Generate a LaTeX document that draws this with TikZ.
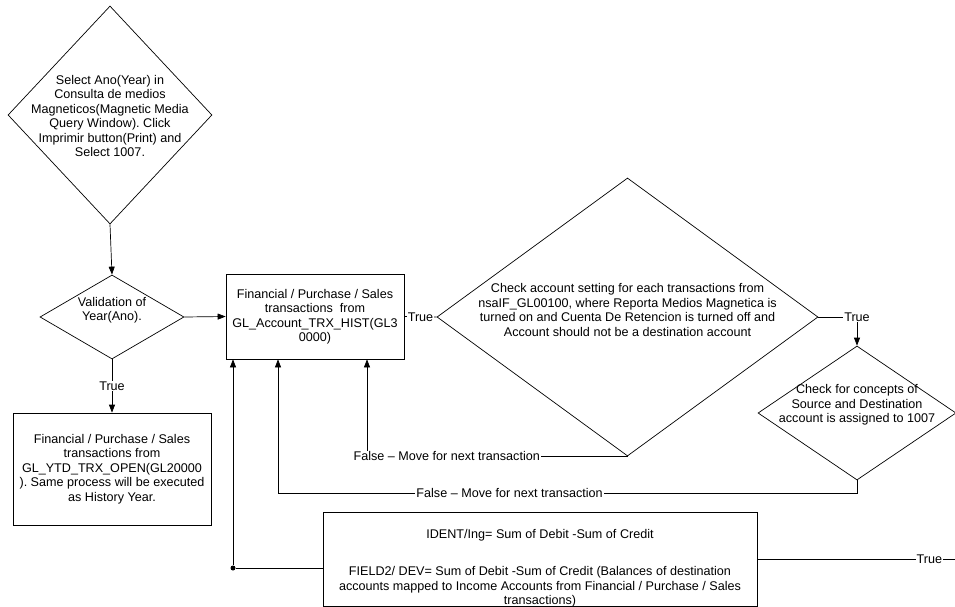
\documentclass[tikz,border=0pt]{standalone}
\usepackage{fontspec}
\setmainfont{Liberation Sans}
\usepackage{tikz}
\usetikzlibrary{positioning,arrows.meta,shapes.geometric}
\frenchspacing
\tikzset{
  dia/.style  = {draw, diamond, inner sep=0pt, line width=0.7pt},
  pbox/.style = {draw, rectangle, inner sep=0pt, line width=0.7pt},
  txt/.style  = {align=center, font=\fontsize{12.6}{14.5}\selectfont, inner sep=0pt},
  flow/.style = {-{Triangle[length=8pt,width=6pt]}, line width=0.7pt},
  link/.style = {line width=0.7pt},
  lbl/.style  = {fill=white, inner sep=1pt, font=\fontsize{12.6}{14}\selectfont},
}

\begin{document}
\begin{tikzpicture}[x=1pt, y=-1pt]
  \useasboundingbox (0,0) rectangle (955,607);
  % decisions and process boxes
  \node[dia, minimum width=204pt, minimum height=218pt] (sel) at (110,115) {};
  \node[txt] (seltxt) at (110,116) {Select Ano(Year) in\\Consulta de medios\\Magneticos(Magnetic Media\\Query Window). Click\\Imprimir button(Print) and\\Select 1007.};
  \node[dia, minimum width=144pt, minimum height=84pt] (val) at (112,317) {};
  \node[txt] (valtxt) at (112,310) {Validation of\\Year(Ano).};
  \node[pbox, txt, minimum width=198pt, minimum height=112pt] (hist) at (112,469) {Financial / Purchase / Sales\\transactions from\\GL\_YTD\_TRX\_OPEN(GL20000\\). Same process will be executed\\as History Year.};
  \node[pbox, txt, minimum width=178pt, minimum height=85pt] (gl) at (315,316.5) {Financial / Purchase / Sales\\transactions\ \ from\\GL\_Account\_TRX\_HIST(GL3\\0000)};
  \node[dia, minimum width=381pt, minimum height=278pt] (chk) at (627.5,317) {};
  \node[txt] (chktxt) at (627.5,310) {Check account setting for each transactions from\\nsaIF\_GL00100, where Reporta Medios Magnetica is\\turned on and Cuenta De Retencion is turned off and\\Account should not be a destination account};
  \node[dia, minimum width=198pt, minimum height=134pt] (con) at (857,413) {};
  \node[txt] (contxt) at (857,405) {Check for concepts of\\Source and Destination\\account is assigned to 1007};
  \node[pbox, minimum width=434pt, minimum height=94pt] (res) at (540,559) {};
  \node[txt] (restxt) at (540,568) {IDENT/Ing= Sum of Debit -Sum of Credit\\[23pt]FIELD2/ DEV= Sum of Debit -Sum of Credit (Balances of destination\\accounts mapped to Income Accounts from Financial / Purchase / Sales\\transactions)};
  \node[circle, fill, inner sep=0pt, minimum size=5pt] (jn) at (233,568) {};
  \coordinate (lp) at (278,493);
  \coordinate (rt) at (955,559);

  % connectors
  \draw[flow] (sel.south) -- (val.north);
  \draw[flow] (val.east) -- (gl.west);
  \draw[flow] (val.south) -- node[lbl] (t1) {True} (hist.north);
  \draw[link] (gl.east) -- node[lbl] (t2) {True} (chk.west);
  \draw[flow] (chk.east) -| node[lbl, pos=0.5] (t3) {True} (con.north);
  \draw[flow] (chk.south) -| node[lbl, pos=0.347] (f1) {False -- Move for next transaction} ([xshift=52pt]gl.south);
  \draw[flow] (con.south) |- node[lbl, pos=0.8] (f2) {False -- Move for next transaction} (lp) -- ([xshift=-37pt]gl.south);
  \draw[link] (jn -| res.west) -- (jn);
  \draw[flow] (jn) -- ([xshift=-82pt]gl.south);
  \draw[link] (res.east) -- node[lbl, pos=0.87] (t4) {True} (rt);
\end{tikzpicture}
\end{document}
